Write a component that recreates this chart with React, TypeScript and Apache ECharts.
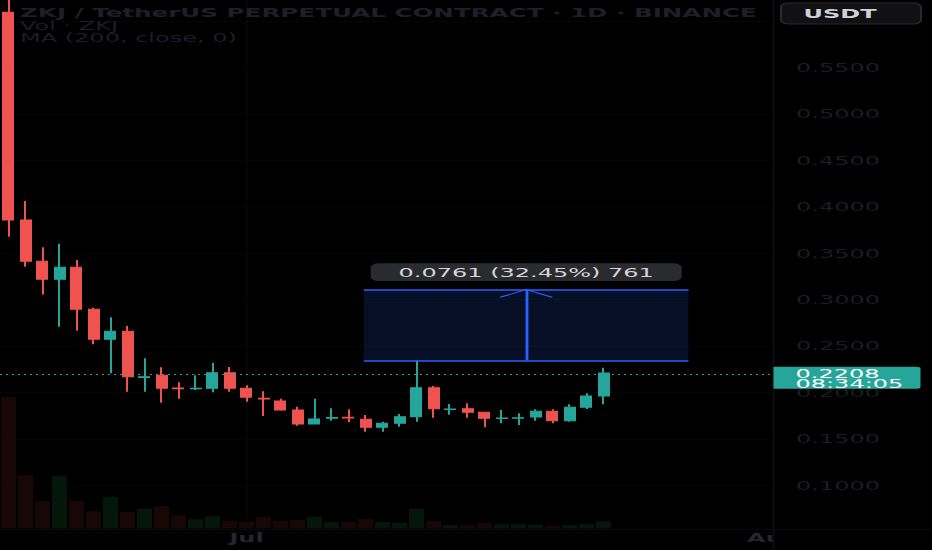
import { useEffect, useRef } from 'react'
import * as echarts from 'echarts'

// screenshot is stretched ~2x horizontally, so the chart is drawn half as wide and scaled by CSS
const STRETCH = 2
const WIDTH = 932 / STRETCH
const HEIGHT = 550

const DATES = [
  '2024-06-17', '2024-06-18', '2024-06-19', '2024-06-20', '2024-06-21', '2024-06-22', '2024-06-23',
  '2024-06-24', '2024-06-25', '2024-06-26', '2024-06-27', '2024-06-28', '2024-06-29', '2024-06-30',
  '2024-07-01', '2024-07-02', '2024-07-03', '2024-07-04', '2024-07-05', '2024-07-06', '2024-07-07',
  '2024-07-08', '2024-07-09', '2024-07-10', '2024-07-11', '2024-07-12', '2024-07-13', '2024-07-14',
  '2024-07-15', '2024-07-16', '2024-07-17', '2024-07-18', '2024-07-19', '2024-07-20', '2024-07-21',
  '2024-07-22', '2024-07-23', '2024-07-24', '2024-07-25', '2024-07-26', '2024-07-27', '2024-07-28',
  '2024-07-29', '2024-07-30', '2024-07-31', '2024-08-01'
]

const OPEN = [
  0.6092, 0.3856, 0.3412, 0.3218, 0.3347, 0.2895, 0.2572, 0.2658, 0.2160, 0.2184, 0.2048, 0.2040,
  0.2044, 0.2212, 0.2044, 0.1936, 0.1908, 0.1811, 0.1660, 0.1722, 0.1733, 0.1711, 0.1624, 0.1668,
  0.1739, 0.2051, 0.1815, 0.1825, 0.1786, 0.1718, 0.1722, 0.1735, 0.1797, 0.1696, 0.1840, 0.1961
]
const CLOSE = [
  0.3856, 0.3412, 0.3218, 0.3347, 0.2895, 0.2572, 0.2658, 0.2169, 0.2170, 0.2044, 0.2040, 0.2046,
  0.2212, 0.2044, 0.1947, 0.1928, 0.1811, 0.1660, 0.1714, 0.1730, 0.1725, 0.1624, 0.1668, 0.1739,
  0.2051, 0.1825, 0.1822, 0.1786, 0.1721, 0.1724, 0.1728, 0.1797, 0.1696, 0.1840, 0.1961, 0.2208
]
const LOW = [
  0.3676, 0.3353, 0.3054, 0.2707, 0.2664, 0.2518, 0.2206, 0.2008, 0.2008, 0.1889, 0.1932, 0.2026,
  0.2001, 0.2008, 0.1900, 0.1746, 0.1803, 0.1642, 0.1655, 0.1696, 0.1678, 0.1577, 0.1577, 0.1631,
  0.1685, 0.1728, 0.1760, 0.1728, 0.1624, 0.1668, 0.1649, 0.1696, 0.1668, 0.1685, 0.1822, 0.1872
]
const HIGH = [
  0.6600, 0.4061, 0.3562, 0.3601, 0.3425, 0.2912, 0.2809, 0.2715, 0.2367, 0.2270, 0.2109, 0.2184,
  0.2317, 0.2274, 0.2077, 0.2012, 0.1932, 0.1846, 0.1932, 0.1829, 0.1818, 0.1757, 0.1685, 0.1768,
  0.2345, 0.2069, 0.1875, 0.1883, 0.1792, 0.1811, 0.1775, 0.1818, 0.1818, 0.1872, 0.1990, 0.2266
]
// volume, millions
const VOLUME = [
  131.6, 53.3, 27.3, 52.3, 27.3, 17.0, 31.3, 16.3, 19.6, 22.3, 13.0, 9.0,
  12.3, 7.6, 6.6, 11.6, 7.3, 8.6, 11.6, 6.3, 6.6, 9.3, 6.3, 5.6,
  19.6, 7.3, 3.3, 3.0, 5.6, 4.3, 4.3, 3.6, 2.6, 3.3, 4.3, 7.0
]

const LAST_PRICE = 0.2208
const COUNTDOWN = '08:34:05'
const PRICE_MIN = 0.05
const PRICE_MAX = 0.6
const PRICE_STEP = 0.05
const MONTH_TICKS = ['2024-07-01', '2024-08-01']
const MONTH_LABELS = ['Jul', 'Aug']

// price range measurement (bar positions are candle indexes)
const MEASURE_FROM = 20.9
const MEASURE_TO = 40
const MEASURE_LOW = 0.2345
const MEASURE_HIGH = 0.3106
const TICK_SIZE = 0.0001

const TITLE = 'ZKJ / TetherUS PERPETUAL CONTRACT · 1D · BINANCE'
const SUBTITLE = 'Vol · ZKJ\nMA (200, close, 0)'

const UP = '#26a69a'
const DOWN = '#ef5350'
const VOL_UP = '#04170a'
const VOL_DOWN = '#170707'
const BLUE = '#2962ff'
const FONT = 'DejaVu Sans'

export default function App() {
  const chartRef = useRef<HTMLDivElement | null>(null)

  useEffect(() => {
    if (!chartRef.current) return
    const chart = echarts.init(chartRef.current, null, { renderer: 'svg' })

    const candles = OPEN.map((o, i) => [o, CLOSE[i], LOW[i], HIGH[i]])
    const volumes = VOLUME.map((v, i) => ({
      value: v,
      itemStyle: { color: CLOSE[i] >= OPEN[i] ? VOL_UP : VOL_DOWN }
    }))

    const diff = MEASURE_HIGH - MEASURE_LOW
    const measureText = `${diff.toFixed(4)} (${((diff / MEASURE_LOW) * 100).toFixed(2)}%) ${Math.round(diff / TICK_SIZE)}`
    const mid = (MEASURE_FROM + MEASURE_TO) / 2
    const headY = MEASURE_HIGH - 0.0082
    const headDx = 1.53

    const priceGrid = { left: 0, right: WIDTH - 46 * 8.5, top: 20.86, height: 510.9 }
    const volGrid = { left: 0, right: WIDTH - 46 * 8.5, top: 380, height: 148.3 }

    const option: any = {
      animation: false,
      backgroundColor: '#000000',
      textStyle: { fontFamily: FONT },
      title: {
        text: TITLE,
        subtext: SUBTITLE,
        left: 10,
        top: 6,
        padding: 0,
        itemGap: 0,
        textStyle: { fontSize: 12.3, fontWeight: 'bold', color: '#1d2029', lineHeight: 13, fontFamily: FONT },
        subtextStyle: { fontSize: 12, color: '#1b1e26', lineHeight: 12.5, fontFamily: FONT }
      },
      grid: [priceGrid, volGrid],
      xAxis: [
        { type: 'category', gridIndex: 0, data: DATES, show: false, position: 'bottom' },
        {
          type: 'category',
          gridIndex: 1,
          data: DATES,
          axisLine: { show: false },
          axisTick: { show: false },
          axisLabel: {
            interval: (_i: number, v: string) => MONTH_TICKS.includes(v),
            formatter: (v: string) => MONTH_LABELS[MONTH_TICKS.indexOf(v)] ?? '',
            color: '#242731',
            fontSize: 12,
            fontWeight: 'bold',
            margin: 3
          }
        },
        { type: 'value', gridIndex: 0, min: -0.5, max: DATES.length - 0.5, show: false, position: 'bottom' }
      ],
      yAxis: [
        {
          type: 'value',
          gridIndex: 0,
          position: 'right',
          min: PRICE_MIN,
          max: PRICE_MAX,
          interval: PRICE_STEP,
          axisLine: { show: false },
          axisTick: { show: false },
          axisLabel: { show: false },
          splitLine: { lineStyle: { color: '#060608', width: 1 } }
        },
        {
          type: 'value',
          gridIndex: 0,
          position: 'right',
          z: 10,
          min: PRICE_MIN,
          max: PRICE_MAX,
          interval: PRICE_STEP,
          axisLine: { show: false },
          axisTick: { show: false },
          splitLine: { show: false },
          axisLabel: {
            showMinLabel: false,
            showMaxLabel: false,
            margin: 7,
            color: '#1a1d25',
            fontSize: 12,
            formatter: (v: number) => v.toFixed(4)
          }
        },
        { type: 'value', gridIndex: 1, min: 0, max: 148.3, show: false, splitLine: { show: false } }
      ],
      series: [
        {
          type: 'bar',
          name: 'Vol',
          xAxisIndex: 1,
          yAxisIndex: 2,
          barWidth: 7.6,
          data: volumes
        },
        {
          type: 'candlestick',
          name: 'ZKJUSDT.P',
          xAxisIndex: 0,
          yAxisIndex: 0,
          barWidth: 5.7,
          clip: false,
          itemStyle: {
            color: UP,
            color0: DOWN,
            borderColor: UP,
            borderColor0: DOWN,
            borderWidth: 1
          },
          data: candles,
          markLine: {
            silent: true,
            symbol: ['none', 'none'],
            label: { show: false },
            lineStyle: { color: UP, type: [1, 2], width: 1 },
            data: [{ yAxis: LAST_PRICE }]
          }
        },
        {
          type: 'line',
          name: 'measure',
          xAxisIndex: 2,
          yAxisIndex: 0,
          silent: true,
          symbol: 'none',
          lineStyle: { opacity: 0 },
          data: [[mid, MEASURE_LOW]],
          markArea: {
            silent: true,
            itemStyle: { color: 'rgba(41, 98, 255, 0.15)' },
            data: [[{ coord: [MEASURE_FROM, MEASURE_LOW] }, { coord: [MEASURE_TO, MEASURE_HIGH] }]]
          },
          markLine: {
            silent: true,
            symbol: ['none', 'none'],
            label: { show: false },
            lineStyle: { color: BLUE, width: 1.5, type: 'solid' },
            data: [
              [{ coord: [MEASURE_FROM, MEASURE_HIGH] }, { coord: [MEASURE_TO, MEASURE_HIGH] }],
              [{ coord: [MEASURE_FROM, MEASURE_LOW] }, { coord: [MEASURE_TO, MEASURE_LOW] }],
              [{ coord: [mid, MEASURE_LOW], lineStyle: { width: 1.4 } }, { coord: [mid, MEASURE_HIGH] }],
              [{ coord: [mid, MEASURE_HIGH], lineStyle: { width: 1 } }, { coord: [mid - headDx, headY] }],
              [{ coord: [mid, MEASURE_HIGH], lineStyle: { width: 1 } }, { coord: [mid + headDx, headY] }]
            ]
          }
        }
      ]
    }

    chart.setOption(option)

    const toPx = (x: number, y: number) =>
      chart.convertToPixel({ xAxisIndex: 2, yAxisIndex: 0 }, [x, y]) as number[]
    const julX = chart.convertToPixel({ xAxisIndex: 0 }, MONTH_TICKS[0]) as number
    const edgeX = toPx(DATES.length - 1, LAST_PRICE)[0]
    const priceY = toPx(0, LAST_PRICE)[1]
    const [midX, topY] = toPx(mid, MEASURE_HIGH)

    chart.setOption({
      graphic: [
        {
          type: 'line',
          z: 1,
          silent: true,
          shape: { x1: julX, y1: 0, x2: julX, y2: 529 },
          style: { stroke: '#070709', lineWidth: 1 }
        },
        {
          type: 'rect',
          z: 4,
          silent: true,
          shape: { x: edgeX, y: 0, width: WIDTH - edgeX, height: HEIGHT },
          style: { fill: '#000000' }
        },
        {
          type: 'line',
          z: 6,
          silent: true,
          shape: { x1: edgeX, y1: 0, x2: edgeX, y2: HEIGHT },
          style: { stroke: '#0d0e10', lineWidth: 1 }
        },
        {
          type: 'line',
          z: 6,
          silent: true,
          shape: { x1: 0, y1: 529.3, x2: WIDTH, y2: 529.3 },
          style: { stroke: '#0b0c0e', lineWidth: 1 }
        },
        // last price tag
        {
          type: 'rect',
          z: 20,
          silent: true,
          shape: { x: edgeX, y: priceY - 6.3, width: 73.5, height: 22, r: [0, 2, 2, 0] },
          style: { fill: UP }
        },
        {
          type: 'text',
          z: 21,
          silent: true,
          x: edgeX + 11,
          y: priceY,
          style: { text: LAST_PRICE.toFixed(4), fill: '#ffffff', font: `12px "${FONT}"`, verticalAlign: 'middle' }
        },
        {
          type: 'text',
          z: 21,
          silent: true,
          x: edgeX + 11,
          y: priceY + 10.5,
          style: { text: COUNTDOWN, fill: '#ffffff', font: `12px "${FONT}"`, verticalAlign: 'middle' }
        },
        // currency button
        {
          type: 'rect',
          z: 20,
          silent: true,
          shape: { x: 390.5, y: 3, width: 70, height: 21, r: 4 },
          style: { fill: '#111113', stroke: '#2a2a2e', lineWidth: 1 }
        },
        {
          type: 'text',
          z: 21,
          silent: true,
          x: 420,
          y: 13.5,
          style: { text: 'USDT', fill: '#cfd1d6', font: `bold 12px "${FONT}"`, align: 'center', verticalAlign: 'middle' }
        },
        // measurement label
        {
          type: 'rect',
          z: 20,
          silent: true,
          shape: { x: midX - 77.75, y: topY - 26.4, width: 155.5, height: 17.7, r: 4 },
          style: { fill: '#2a2b2f' }
        },
        {
          type: 'text',
          z: 21,
          silent: true,
          x: midX,
          y: topY - 17.5,
          style: { text: measureText, fill: '#d6d7db', font: `12px "${FONT}"`, align: 'center', verticalAlign: 'middle' }
        }
      ]
    })

    return () => {
      chart.dispose()
    }
  }, [])

  return (
    <div
      ref={chartRef}
      style={{
        position: 'fixed',
        left: 0,
        top: 0,
        width: WIDTH,
        height: HEIGHT,
        background: '#000000',
        transform: `scaleX(${STRETCH})`,
        transformOrigin: '0 0'
      }}
    />
  )
}
